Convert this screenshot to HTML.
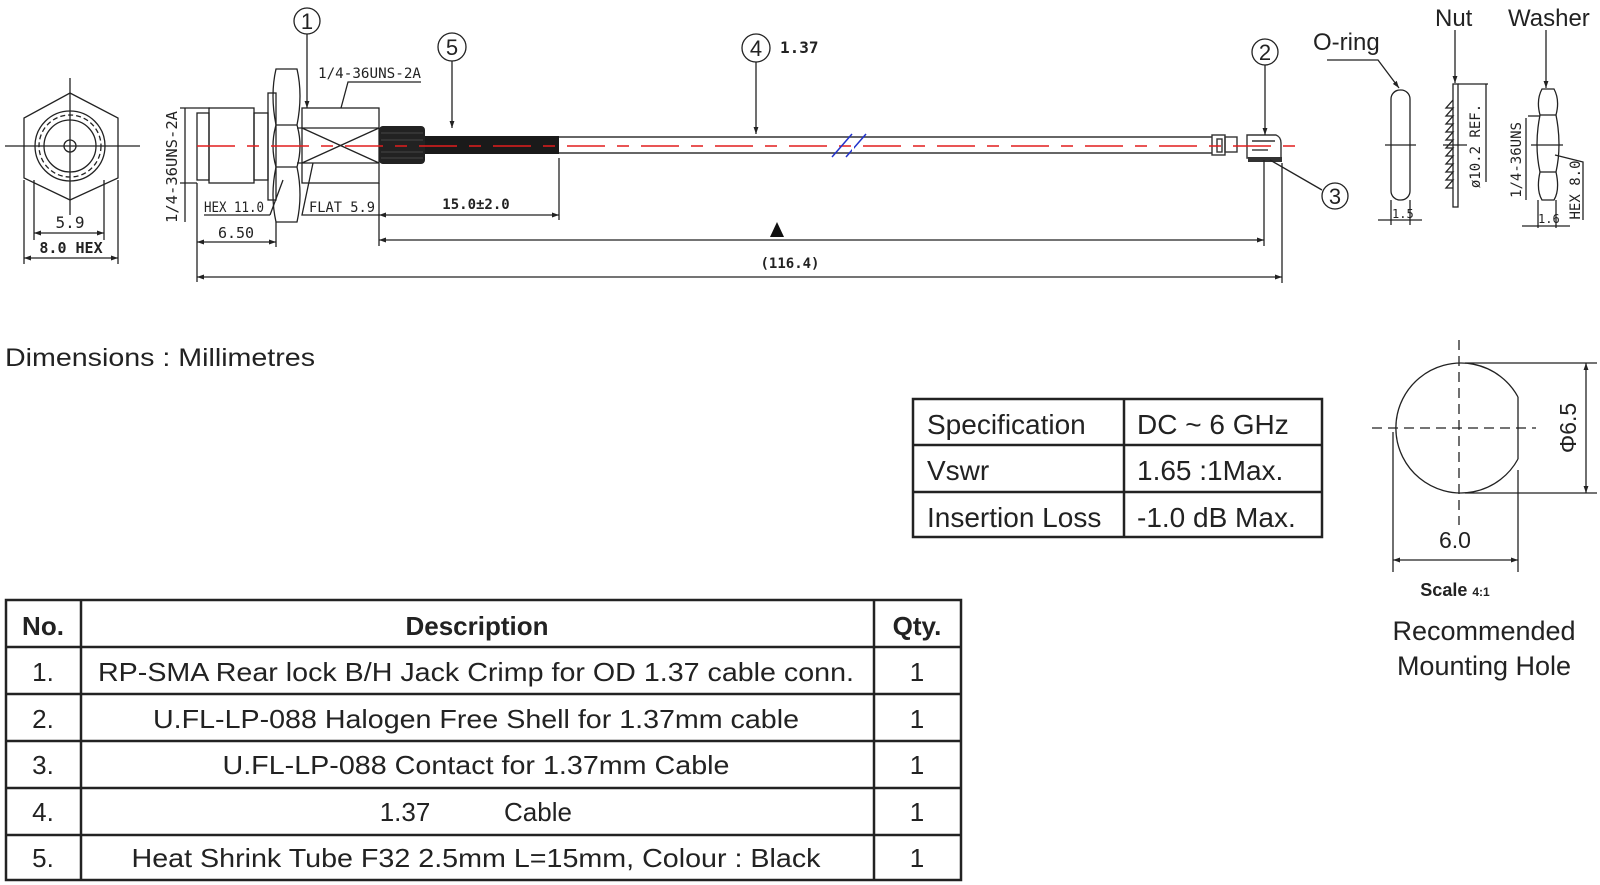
<!DOCTYPE html>
<html><head><meta charset="utf-8"><style>
html,body{margin:0;padding:0;background:#fff;width:1600px;height:885px;overflow:hidden}
svg{display:block}
text{font-family:"Liberation Sans",sans-serif;fill:#222}
.m text, text.m{font-family:"DejaVu Sans Mono","Liberation Mono",monospace}
</style></head><body>
<svg width="1600" height="885" viewBox="0 0 1600 885" xmlns="http://www.w3.org/2000/svg">
<defs>
<marker id="a" viewBox="0 0 10 10" refX="10" refY="5" markerWidth="9" markerHeight="7" orient="auto-start-reverse" markerUnits="userSpaceOnUse"><path d="M0,1.5 L10,5 L0,8.5z" fill="#222"/></marker>
</defs>
<g stroke="#222" fill="none" stroke-width="1.3">
<polygon points="70,93 118,118 118,178 70,200 24,178 24,118"/>
<circle cx="70" cy="146" r="35"/>
<circle cx="70" cy="146" r="31" stroke-dasharray="5,3"/>
<circle cx="70" cy="146" r="26"/>
<circle cx="70" cy="146" r="6"/>
<line x1="5" y1="146" x2="140" y2="146"/>
<line x1="70" y1="78" x2="70" y2="215"/>
<line x1="34" y1="180" x2="34" y2="240"/><line x1="104" y1="180" x2="104" y2="240"/>
<line x1="34" y1="233" x2="104" y2="233" marker-start="url(#a)" marker-end="url(#a)"/>
<line x1="24" y1="180" x2="24" y2="264"/><line x1="118" y1="180" x2="118" y2="264"/>
<line x1="24" y1="258" x2="118" y2="258" marker-start="url(#a)" marker-end="url(#a)"/>
<line x1="180" y1="108" x2="210" y2="108"/><line x1="180" y1="183" x2="197" y2="183"/>
<line x1="185" y1="108" x2="185" y2="222"/>
<rect x="197" y="113" width="12" height="67"/>
<rect x="209" y="108" width="45" height="75"/>
<rect x="254" y="113" width="14" height="67"/>
<rect x="268" y="93" width="8" height="107"/>
<path d="M276,69 L297,69 Q303,95 297,125 Q303,146 297,167 Q303,195 297,222 L276,222 Q270,195 276,167 Q270,146 276,125 Q270,95 276,69z"/>
<line x1="276" y1="125" x2="297" y2="125"/><line x1="276" y1="167" x2="297" y2="167"/>
<rect x="302" y="108" width="77" height="75"/>
<line x1="297" y1="128" x2="379" y2="128"/><line x1="297" y1="163" x2="379" y2="163"/>
<line x1="302" y1="128" x2="379" y2="163"/><line x1="302" y1="163" x2="379" y2="128"/>
</g>
<rect x="379" y="126" width="46" height="38" rx="4" fill="#222"/>
<g stroke="#555" stroke-width="0.8"><line x1="381" y1="133" x2="423" y2="133"/><line x1="381" y1="140" x2="423" y2="140"/><line x1="381" y1="152" x2="423" y2="152"/><line x1="381" y1="158" x2="423" y2="158"/></g>
<rect x="425" y="136" width="134" height="18" fill="#1a1a1a"/>
<g stroke="#333" stroke-width="1.4" fill="none">
<line x1="559" y1="137" x2="1212" y2="137"/><line x1="559" y1="153" x2="1212" y2="153"/>
<rect x="1212" y="135" width="13" height="20"/>
<rect x="1217" y="139" width="5" height="13"/>
<rect x="1225" y="137" width="12" height="15"/>
<path d="M1247,135 L1276,135 Q1281,137 1281,143 L1281,158 L1247,158z"/>
<line x1="1252" y1="141" x2="1275" y2="141"/><line x1="1252" y1="150" x2="1268" y2="150"/>
</g>
<rect x="1248" y="157" width="34" height="5" fill="#333"/>
<line x1="197" y1="146" x2="1298" y2="146" stroke="#e21d1d" stroke-width="1.5" stroke-dasharray="38,12,12,12"/>
<g stroke="#2233cc" stroke-width="1.5"><line x1="832" y1="157" x2="852" y2="134"/><line x1="846" y1="157" x2="866" y2="134"/></g>
<rect x="852" y="138" width="2" height="14" fill="#fff"/>
<g stroke="#222" fill="none" stroke-width="1.3">
<circle cx="307" cy="21" r="13"/><line x1="307" y1="34" x2="307" y2="108" marker-end="url(#a)"/>
<circle cx="452" cy="47" r="14"/><line x1="452" y1="61" x2="452" y2="128" marker-end="url(#a)"/>
<circle cx="756" cy="48" r="14"/><line x1="756" y1="62" x2="756" y2="134" marker-end="url(#a)"/>
<circle cx="1265" cy="52" r="13"/><line x1="1265" y1="65" x2="1265" y2="135" marker-end="url(#a)"/>
<circle cx="1335" cy="196" r="13"/><line x1="1322" y1="190" x2="1270" y2="160"/>
<polyline points="421,82 348,82 341,108"/>
<polyline points="270,215 204,215"/><line x1="270" y1="215" x2="283" y2="180"/>
<polyline points="379,215 302,215 313,163"/>
<line x1="197" y1="183" x2="197" y2="282"/>
<line x1="276" y1="222" x2="276" y2="247"/>
<line x1="197" y1="242" x2="276" y2="242" marker-start="url(#a)" marker-end="url(#a)"/>
<line x1="379" y1="183" x2="379" y2="246"/>
<line x1="559" y1="158" x2="559" y2="220"/>
<line x1="379" y1="215" x2="559" y2="215" marker-start="url(#a)" marker-end="url(#a)"/>
<line x1="379" y1="240" x2="1264" y2="240" marker-start="url(#a)" marker-end="url(#a)"/>
<line x1="1264" y1="160" x2="1264" y2="246"/>
<line x1="1282" y1="163" x2="1282" y2="283"/>
<line x1="197" y1="277" x2="1282" y2="277" marker-start="url(#a)" marker-end="url(#a)"/>
</g>
<polygon points="777,222 770,237 784,237" fill="#111"/>
<g class="m" font-size="14">
<text x="318" y="78" textLength="103" lengthAdjust="spacingAndGlyphs">1/4-36UNS-2A</text>
<text x="204" y="212" textLength="60" lengthAdjust="spacingAndGlyphs">HEX 11.0</text>
<text x="309" y="212" textLength="66" lengthAdjust="spacingAndGlyphs">FLAT 5.9</text>
<text x="236" y="238" text-anchor="middle" font-size="15">6.50</text>
<text x="476" y="209" text-anchor="middle" font-weight="bold">15.0±2.0</text>
<text x="790" y="268" text-anchor="middle" font-weight="bold">(116.4)</text>
<text x="70" y="228" text-anchor="middle" font-size="16">5.9</text>
<text x="71" y="253" text-anchor="middle" font-weight="bold" font-size="15">8.0 HEX</text>
<text transform="translate(177,167) rotate(-90)" text-anchor="middle" font-size="15" textLength="112" lengthAdjust="spacingAndGlyphs">1/4-36UNS-2A</text>
<text x="780" y="53" font-weight="bold" font-size="16">1.37</text>
</g>
<g font-size="22" text-anchor="middle"><text x="307" y="29">1</text><text x="452" y="55">5</text><text x="756" y="56">4</text><text x="1265" y="60">2</text><text x="1335" y="204">3</text></g>
<g stroke="#222" fill="none" stroke-width="1.3">
<rect x="1391" y="90" width="19" height="110" rx="9"/>
<line x1="1385" y1="145" x2="1416" y2="145"/>
<polyline points="1327,60 1378,60 1399,88" marker-end="url(#a)"/>
<line x1="1391" y1="200" x2="1391" y2="225"/><line x1="1410" y1="200" x2="1410" y2="225"/>
<line x1="1378" y1="220" x2="1422" y2="220"/>
<rect x="1453" y="84" width="5" height="123"/>
<polyline points="1453,100 1446,108 1453,108 1446,116 1453,116 1446,124 1453,124 1446,132 1453,132 1446,140 1453,140 1446,148 1453,148 1446,156 1453,156 1446,164 1453,164 1446,172 1453,172 1446,180 1453,180 1446,188 1453,188"/>
<line x1="1443" y1="145" x2="1467" y2="145"/>
<line x1="1455" y1="30" x2="1455" y2="83" marker-end="url(#a)"/>
<line x1="1458" y1="84" x2="1488" y2="84"/><line x1="1486" y1="84" x2="1486" y2="182"/>
<path d="M1542,89 L1554,89 Q1560,100 1556,115 Q1562,145 1556,172 Q1560,190 1554,200 L1542,200 Q1536,190 1540,172 Q1534,145 1540,115 Q1536,100 1542,89z"/>
<line x1="1540" y1="115" x2="1556" y2="115"/><line x1="1540" y1="172" x2="1556" y2="172"/>
<line x1="1531" y1="145" x2="1563" y2="145"/>
<line x1="1546" y1="30" x2="1546" y2="88" marker-end="url(#a)"/>
<line x1="1528" y1="116" x2="1540" y2="116"/><line x1="1526" y1="118" x2="1526" y2="200"/>
<polyline points="1555,155 1583,162 1583,220"/>
<line x1="1538" y1="200" x2="1538" y2="228"/><line x1="1556" y1="200" x2="1556" y2="228"/>
<line x1="1522" y1="226" x2="1570" y2="226"/>
</g>
<text x="1313" y="50" font-size="24">O-ring</text>
<text x="1435" y="26" font-size="24">Nut</text>
<text x="1508" y="26" font-size="24">Washer</text>
<text x="1392" y="218" font-size="12" class="m">1.5</text>
<text x="1538" y="223" font-size="12" class="m">1.6</text>
<text class="m" transform="translate(1480,146) rotate(-90)" font-size="14" text-anchor="middle">ø10.2 REF.</text>
<text class="m" transform="translate(1521,160) rotate(-90)" font-size="14" text-anchor="middle">1/4-36UNS</text>
<text class="m" transform="translate(1580,190) rotate(-90)" font-size="14" text-anchor="middle">HEX 8.0</text>
<text x="5" y="366" font-size="25" textLength="310" lengthAdjust="spacingAndGlyphs">Dimensions : Millimetres</text>
<g stroke="#222" stroke-width="2.5" fill="none">
<rect x="913" y="399" width="409" height="138"/>
<line x1="1124" y1="399" x2="1124" y2="537"/>
<line x1="913" y1="445" x2="1322" y2="445"/><line x1="913" y1="492" x2="1322" y2="492"/>
</g>
<g font-size="28"><text x="927" y="434">Specification</text><text x="1137" y="434">DC ~ 6 GHz</text>
<text x="927" y="480">Vswr</text><text x="1137" y="480">1.65 :1Max.</text>
<text x="927" y="527">Insertion Loss</text><text x="1137" y="527">-1.0 dB Max.</text></g>
<g stroke="#222" fill="none" stroke-width="1.3">
<path d="M1518,397 A65,65 0 1 0 1518,459"/>
<line x1="1518" y1="397" x2="1518" y2="459"/>
<line x1="1372" y1="428" x2="1536" y2="428" stroke-dasharray="10,6"/>
<line x1="1459" y1="340" x2="1459" y2="525" stroke-dasharray="10,6"/>
<line x1="1465" y1="363" x2="1597" y2="363"/><line x1="1465" y1="493" x2="1597" y2="493"/>
<line x1="1586" y1="363" x2="1586" y2="493" marker-start="url(#a)" marker-end="url(#a)"/>
<line x1="1393" y1="432" x2="1393" y2="572"/><line x1="1518" y1="470" x2="1518" y2="572"/>
<line x1="1393" y1="560" x2="1518" y2="560" marker-start="url(#a)" marker-end="url(#a)"/>
</g>
<text x="1455" y="548" font-size="23" text-anchor="middle" fill="#444">6.0</text>
<text transform="translate(1576,428) rotate(-90)" font-size="23" text-anchor="middle" fill="#444">Φ6.5</text>
<text x="1455" y="596" font-size="18" font-weight="bold" text-anchor="middle">Scale <tspan font-size="12">4:1</tspan></text>
<text x="1484" y="640" font-size="27" text-anchor="middle">Recommended</text>
<text x="1484" y="675" font-size="27" text-anchor="middle">Mounting Hole</text>
<g stroke="#222" stroke-width="2.5" fill="none">
<rect x="6" y="600" width="955" height="280"/>
<line x1="81" y1="600" x2="81" y2="880"/><line x1="874" y1="600" x2="874" y2="880"/>
<line x1="6" y1="647" x2="961" y2="647"/><line x1="6" y1="694" x2="961" y2="694"/><line x1="6" y1="741" x2="961" y2="741"/><line x1="6" y1="788" x2="961" y2="788"/><line x1="6" y1="835" x2="961" y2="835"/>
</g>
<g font-size="26" text-anchor="middle">
<text x="43" y="635" font-weight="bold">No.</text><text x="477" y="635" font-weight="bold">Description</text><text x="917" y="635" font-weight="bold">Qty.</text>
<text x="43" y="681">1.</text><text x="476" y="681" textLength="756" lengthAdjust="spacingAndGlyphs">RP-SMA Rear lock B/H Jack Crimp for OD 1.37 cable conn.</text><text x="917" y="681">1</text>
<text x="43" y="728">2.</text><text x="476" y="728" textLength="646" lengthAdjust="spacingAndGlyphs">U.FL-LP-088 Halogen Free Shell for 1.37mm cable</text><text x="917" y="728">1</text>
<text x="43" y="774">3.</text><text x="476" y="774" textLength="507" lengthAdjust="spacingAndGlyphs">U.FL-LP-088 Contact for 1.37mm Cable</text><text x="917" y="774">1</text>
<text x="43" y="821">4.</text><text x="405" y="821">1.37</text><text x="538" y="821">Cable</text><text x="917" y="821">1</text>
<text x="43" y="867">5.</text><text x="476" y="867" textLength="689" lengthAdjust="spacingAndGlyphs">Heat Shrink Tube F32 2.5mm L=15mm, Colour : Black</text><text x="917" y="867">1</text>
</g>
</svg>
</body></html>
